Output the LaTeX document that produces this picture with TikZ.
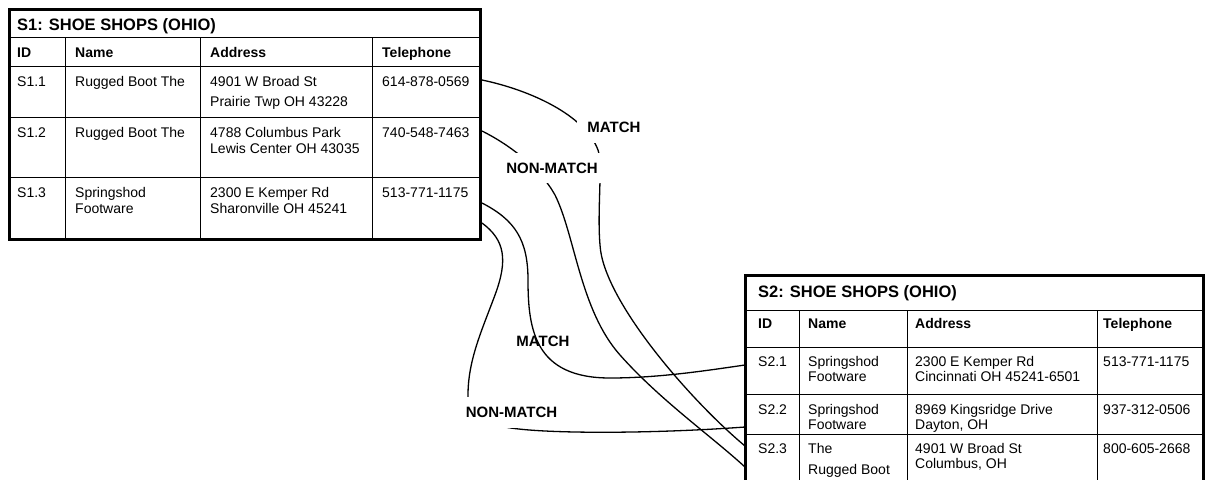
\documentclass[tikz,border=0pt]{standalone}
\usepackage{fontspec}
\setmainfont{Liberation Sans}
\begin{document}
\begin{tikzpicture}[x=1pt,y=-1pt,
  outer/.style={line width=3pt},
  inner/.style={line width=1pt},
  conn/.style={line width=1.3pt},
  ttl/.style={anchor=base west, inner sep=0pt, font=\fontsize{16.5}{18}\selectfont\bfseries},
  hdr/.style={anchor=base west, inner sep=0pt, font=\fontsize{14}{16}\selectfont\bfseries},
  cell/.style={anchor=base west, inner sep=0pt, font=\fontsize{14}{16}\selectfont},
  lbl/.style={font=\fontsize{15}{17}\selectfont\bfseries, inner xsep=10pt, inner ysep=10pt},
  knock/.style={lbl, fill=white}]
\useasboundingbox (0,0) rectangle (1206,479);
\clip (0,0) rectangle (1206,479);

% ---------- Table S1 ----------
\draw[inner] (9,37) -- (480,37) (9,66) -- (480,66) (9,117) -- (480,117) (9,177) -- (480,177);
\draw[inner] (65,37) -- (65,239) (200,37) -- (200,239) (372,37) -- (372,239);
\draw[outer] (9,9) rectangle (480,239);

\node[ttl] (t1) at (17,30) {S1: SHOE SHOPS (OHIO)};
\node[hdr] (h1a) at (17,57) {ID};
\node[hdr] (h1b) at (75,57) {Name};
\node[hdr] (h1c) at (210,57) {Address};
\node[hdr] (h1d) at (382,57) {Telephone};

\node[cell] (r1a) at (17,86) {S1.1};
\node[cell] (r1b) at (75,86) {Rugged Boot The};
\node[cell] (r1c) at (210,86) {4901 W Broad St};
\node[cell] (r1c2) at (210,106) {Prairie Twp OH 43228};
\node[cell] (r1d) at (382,86) {614-878-0569};

\node[cell] (r2a) at (17,137) {S1.2};
\node[cell] (r2b) at (75,137) {Rugged Boot The};
\node[cell] (r2c) at (210,137) {4788 Columbus Park};
\node[cell] (r2c2) at (210,153) {Lewis Center OH 43035};
\node[cell] (r2d) at (382,137) {740-548-7463};

\node[cell] (r3a) at (17,197) {S1.3};
\node[cell] (r3b) at (75,197) {Springshod};
\node[cell] (r3b2) at (75,213) {Footware};
\node[cell] (r3c) at (210,197) {2300 E Kemper Rd};
\node[cell] (r3c2) at (210,213) {Sharonville OH 45241};
\node[cell] (r3d) at (382,197) {513-771-1175};

% ---------- Table S2 ----------
\draw[inner] (745,310) -- (1203,310) (745,347) -- (1203,347) (745,394) -- (1203,394) (745,434) -- (1203,434);
\draw[inner] (799,310) -- (799,490) (907,310) -- (907,490) (1097,310) -- (1097,490);
\draw[outer] (745,490) -- (745,275) -- (1203,275) -- (1203,490);

\node[ttl] (t2) at (758,297) {S2: SHOE SHOPS (OHIO)};
\node[hdr] (h2a) at (758,328) {ID};
\node[hdr] (h2b) at (808,328) {Name};
\node[hdr] (h2c) at (915,328) {Address};
\node[hdr] (h2d) at (1103,328) {Telephone};

\node[cell] (s1a) at (758,366) {S2.1};
\node[cell] (s1b) at (808,366) {Springshod};
\node[cell] (s1b2) at (808,381) {Footware};
\node[cell] (s1c) at (915,366) {2300 E Kemper Rd};
\node[cell] (s1c2) at (915,381) {Cincinnati OH 45241-6501};
\node[cell] (s1d) at (1103,366) {513-771-1175};

\node[cell] (s2a) at (758,414) {S2.2};
\node[cell] (s2b) at (808,414) {Springshod};
\node[cell] (s2b2) at (808,429) {Footware};
\node[cell] (s2c) at (915,414) {8969 Kingsridge Drive};
\node[cell] (s2c2) at (915,429) {Dayton, OH};
\node[cell] (s2d) at (1103,414) {937-312-0506};

\node[cell] (s3a) at (758,453) {S2.3};
\node[cell] (s3b) at (808,453) {The};
\node[cell] (s3b2) at (808,474) {Rugged Boot};
\node[cell] (s3c) at (915,453) {4901 W Broad St};
\node[cell] (s3c2) at (915,468) {Columbus, OH};
\node[cell] (s3d) at (1103,453) {800-605-2668};

% ---------- connector end points ----------
\coordinate (a11) at (482,80);
\coordinate (a12) at (482,131);
\coordinate (a13u) at (482,203);
\coordinate (a13l) at (482,223);
\coordinate (b21) at (745,365);
\coordinate (b22) at (745,427);
\coordinate (b23u) at (745,446);
\coordinate (b23l) at (745,467);

% ---------- connectors ----------
\draw[conn] (a11) .. controls (530,90) and (585,115) .. (598,150)
  .. controls (603,164) and (597,210) .. (600,245)
  .. controls (603,300) and (690,400) .. (b23u);
\draw[conn] (a12) .. controls (510,145) and (540,168) .. (555,195)
  .. controls (575,235) and (580,310) .. (620,355)
  .. controls (660,400) and (710,435) .. (b23l);
\draw[conn] (a13u) .. controls (515,220) and (528,240) .. (528,280)
  .. controls (528,330) and (535,378) .. (610,378)
  .. controls (660,378) and (710,370) .. (b21);
\draw[conn] (a13l) .. controls (505,240) and (508,260) .. (495,295)
  .. controls (482,330) and (468,360) .. (468,395)
  .. controls (468,420) and (480,422) .. (505,427)
  .. controls (540,434) and (650,434) .. (b22);

% ---------- labels ----------
\node[knock] (m1) at (614,127.5) {MATCH};
\node[knock] (n1) at (552,168) {NON-MATCH};
\node[lbl] (m2) at (543,341.5) {MATCH};
\node[knock] (n2) at (511.5,412.5) {NON-MATCH};
\end{tikzpicture}
\end{document}
